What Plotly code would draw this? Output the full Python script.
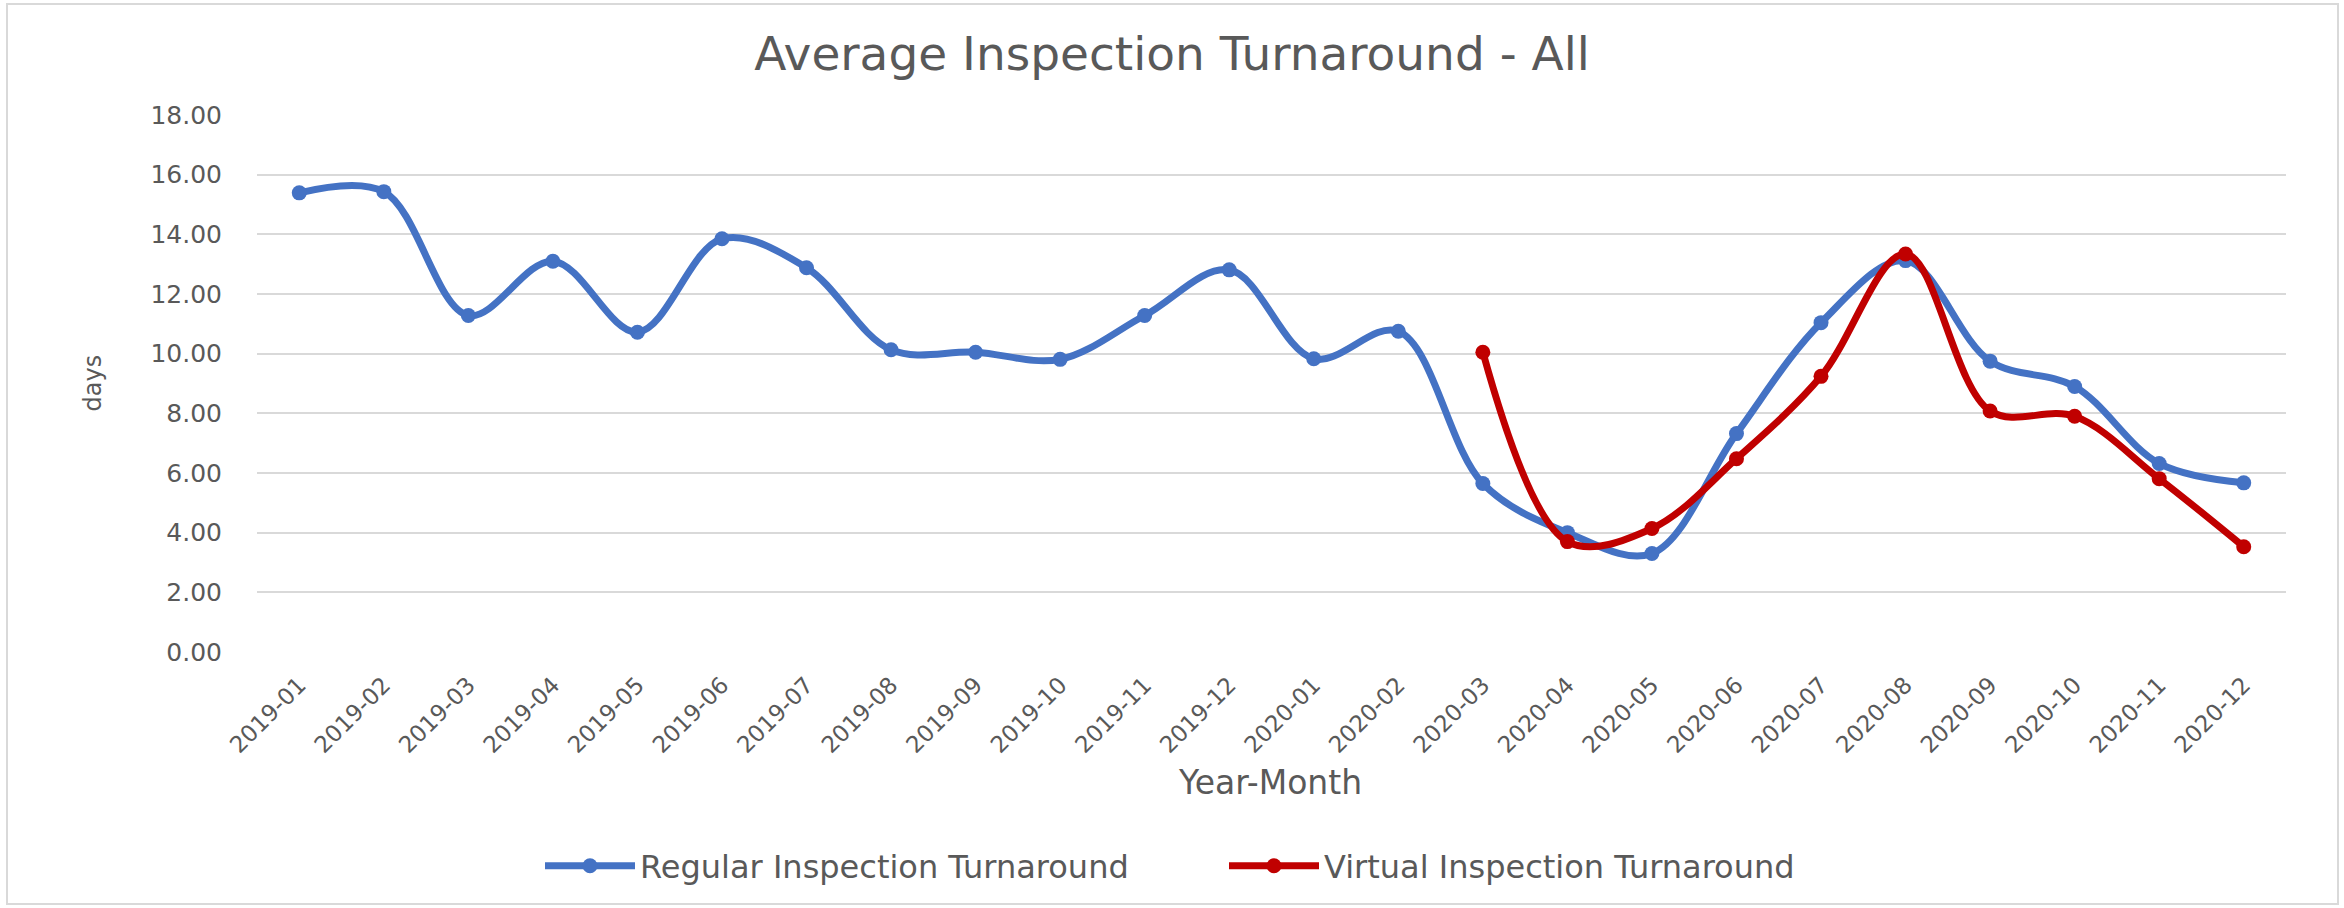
import plotly.graph_objects as go

months = ["2019-01", "2019-02", "2019-03", "2019-04", "2019-05", "2019-06",
          "2019-07", "2019-08", "2019-09", "2019-10", "2019-11", "2019-12",
          "2020-01", "2020-02", "2020-03", "2020-04", "2020-05", "2020-06",
          "2020-07", "2020-08", "2020-09", "2020-10", "2020-11", "2020-12"]

regular = [15.39, 15.43, 11.28, 13.10, 10.72, 13.85,
           12.88, 10.13, 10.05, 9.81, 11.28, 12.81,
           9.83, 10.75, 5.65, 4.00, 3.30, 7.32,
           11.04, 13.12, 9.75, 8.90, 6.32, 5.67]

virtual = [None, None, None, None, None, None,
           None, None, None, None, None, None,
           None, None, 10.05, 3.70, 4.14, 6.48,
           9.24, 13.34, 8.08, 7.90, 5.81, 3.53]

y_ticks = [0, 2, 4, 6, 8, 10, 12, 14, 16, 18]

FONT = "DejaVu Sans"
GREY = "#595959"
BLUE = "#4472C4"
RED = "#C00000"

W, H = 2344, 908
ML, MR, MT, MB = 257, 58, 115, 256

fig = go.Figure()
fig.add_trace(go.Scatter(
    x=months, y=regular, name="Regular Inspection Turnaround",
    mode="lines+markers",
    line=dict(color=BLUE, width=7, shape="spline", smoothing=1.0),
    marker=dict(color=BLUE, size=15, symbol="circle"),
))
fig.add_trace(go.Scatter(
    x=months, y=virtual, name="Virtual Inspection Turnaround",
    mode="lines+markers",
    line=dict(color=RED, width=7, shape="spline", smoothing=1.0),
    marker=dict(color=RED, size=15, symbol="circle"),
    connectgaps=False,
))

pw = W - ML - MR
ph = H - MT - MB

def px_to_paper_x(px):
    return (px - ML) / pw

def px_to_paper_y(py):
    return (H - MB - py) / ph

fig.update_layout(
    width=W, height=H,
    margin=dict(l=ML, r=MR, t=MT, b=MB),
    paper_bgcolor="white", plot_bgcolor="white",
    font=dict(family=FONT, color=GREY),
    title=dict(text="Average Inspection Turnaround - All",
               font=dict(family=FONT, size=47, color=GREY),
               x=0.5, xref="container", xanchor="center",
               y=1 - 54 / H, yref="container", yanchor="middle"),
    showlegend=True,
    legend=dict(orientation="h", xref="container", yref="container",
                x=540 / W, xanchor="left", y=1 - 866 / H, yanchor="middle",
                font=dict(family=FONT, size=32, color=GREY),
                entrywidth=579, itemwidth=90),
    xaxis=dict(type="category", range=[-0.5, len(months) - 0.5],
               tickangle=-45, tickfont=dict(family=FONT, size=23, color=GREY),
               showgrid=False, zeroline=False, showline=False,
               ticks="", ticklabelstandoff=14),
    yaxis=dict(range=[0, 18], tickvals=y_ticks, tickformat=".2f",
               tickfont=dict(family=FONT, size=25, color=GREY),
               showgrid=True, gridcolor="#D9D9D9", gridwidth=2,
               zeroline=False, showline=False, ticks="",
               ticklabelstandoff=34),
    annotations=[
        dict(text="days", textangle=-90, x=px_to_paper_x(92), y=0.5,
             xref="paper", yref="paper", showarrow=False,
             font=dict(family=FONT, size=24, color=GREY),
             xanchor="center", yanchor="middle"),
        dict(text="Year-Month", x=px_to_paper_x(1270), y=px_to_paper_y(782),
             xref="paper", yref="paper", showarrow=False,
             font=dict(family=FONT, size=33, color=GREY),
             xanchor="center", yanchor="middle"),
    ],
    shapes=[dict(type="rect", xref="paper", yref="paper",
                 x0=px_to_paper_x(7), x1=px_to_paper_x(2338),
                 y0=px_to_paper_y(904), y1=px_to_paper_y(4),
                 line=dict(color="#D9D9D9", width=2), fillcolor="rgba(0,0,0,0)",
                 layer="below")],
)

fig.write_html("out.html",
               config={"displayModeBar": False},
               post_script="document.body.style.margin='0';"
                           "document.body.style.overflow='hidden';")
